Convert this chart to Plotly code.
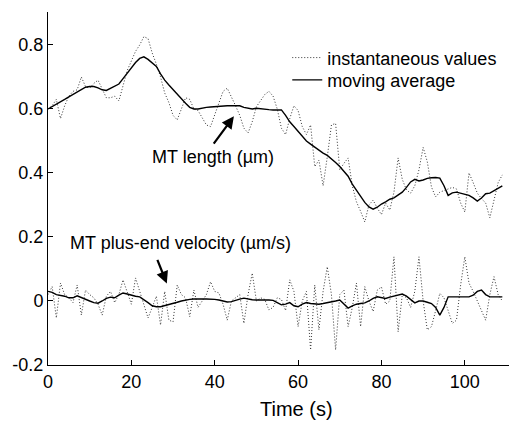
import plotly.graph_objects as go

time_s = list(range(110))

length_inst = [0.60, 0.61, 0.63, 0.57, 0.61, 0.64, 0.655, 0.66, 0.70, 0.67,
               0.665, 0.68, 0.69, 0.66, 0.635, 0.635, 0.64, 0.625, 0.67, 0.72,
               0.75, 0.78, 0.80, 0.826, 0.82, 0.775, 0.74, 0.70, 0.65, 0.62,
               0.58, 0.566, 0.60, 0.635, 0.63, 0.60, 0.595, 0.57, 0.55, 0.545,
               0.58, 0.62, 0.655, 0.665, 0.64, 0.61, 0.58, 0.54, 0.525, 0.56,
               0.607, 0.625, 0.645, 0.655, 0.64, 0.60, 0.54, 0.52, 0.57, 0.61,
               0.595, 0.545, 0.52, 0.55, 0.42, 0.44, 0.36, 0.45, 0.55, 0.555,
               0.41, 0.43, 0.447, 0.36, 0.31, 0.28, 0.247, 0.30, 0.315, 0.29,
               0.27, 0.306, 0.284, 0.34, 0.447, 0.38, 0.347, 0.337, 0.36, 0.41,
               0.48, 0.435, 0.356, 0.325, 0.34, 0.345, 0.35, 0.355, 0.35, 0.306,
               0.278, 0.40, 0.37, 0.337, 0.32, 0.306, 0.26, 0.315, 0.37, 0.394]

length_avg = [0.60, 0.607, 0.615, 0.622, 0.63, 0.638, 0.645, 0.652, 0.66, 0.668,
              0.67, 0.67, 0.666, 0.66, 0.658, 0.665, 0.67, 0.678, 0.695, 0.712,
              0.728, 0.745, 0.758, 0.763, 0.755, 0.745, 0.733, 0.71, 0.69, 0.675,
              0.66, 0.645, 0.63, 0.618, 0.605, 0.60, 0.60, 0.603, 0.605, 0.606,
              0.607, 0.61, 0.61, 0.61, 0.61, 0.61, 0.61, 0.605, 0.603, 0.60,
              0.602, 0.60, 0.598, 0.598, 0.597, 0.597, 0.597, 0.58, 0.56, 0.545,
              0.53, 0.515, 0.50, 0.49, 0.48, 0.472, 0.462, 0.455, 0.445, 0.433,
              0.42, 0.405, 0.39, 0.365, 0.345, 0.325, 0.308, 0.294, 0.287, 0.293,
              0.303, 0.31, 0.318, 0.322, 0.33, 0.34, 0.355, 0.372, 0.38, 0.375,
              0.378, 0.383, 0.385, 0.386, 0.384, 0.36, 0.33, 0.338, 0.34, 0.337,
              0.333, 0.33, 0.322, 0.312, 0.322, 0.335, 0.337, 0.345, 0.352, 0.36]

velocity_inst = [0.02, 0.045, -0.053, 0.056, 0.02, 0.01, -0.005, 0.05, -0.044, 0.034,
                 0.02, 0.01, -0.01, -0.044, 0.015, 0.03, -0.005, 0.02, 0.066, 0.03,
                 -0.01, 0.072, 0.03, -0.01, -0.053, -0.02, 0.015, -0.075, 0.03, -0.06,
                 -0.065, 0.05, 0.02, 0.01, -0.049, 0.034, -0.02, 0.0, 0.02, 0.06,
                 0.03, 0.025, -0.01, -0.06, 0.0, 0.01, 0.02, -0.07, 0.02, 0.087,
                 0.0, 0.01, 0.005, -0.028, -0.02, 0.01, 0.005, -0.03, 0.066, 0.03,
                 -0.08, 0.0, 0.03, -0.153, 0.05, -0.09, 0.03, 0.107, 0.02, -0.153,
                 0.02, 0.034, -0.08, -0.02, 0.056, -0.08, 0.045, 0.0, -0.033, 0.034,
                 0.044, -0.01, 0.0, 0.138, -0.096, 0.02, 0.01, -0.02, 0.03, 0.138,
                 0.0, -0.09, -0.08, -0.03, 0.024, 0.01, -0.03, -0.07, -0.06, 0.05,
                 0.138, 0.056, 0.03, 0.0, -0.03, -0.06, 0.02, 0.076, 0.02, 0.0]

velocity_avg = [0.03, 0.027, 0.02, 0.018, 0.015, 0.01, 0.01, 0.016, 0.01, 0.005,
                0.0, -0.005, -0.007, 0.0, 0.008, 0.012, 0.01, 0.018, 0.025, 0.022,
                0.018, 0.015, 0.013, 0.005, -0.005, -0.015, -0.018, -0.018, -0.015, -0.012,
                -0.007, -0.004, 0.0, 0.003, 0.005, 0.006, 0.005, 0.006, 0.006, 0.006,
                0.005, 0.003, 0.0, -0.003, -0.002, 0.003, 0.006, 0.009, 0.006, 0.004,
                0.003, 0.002, 0.003, 0.003, 0.002, -0.005, -0.012, -0.01, -0.005, -0.015,
                -0.018, -0.01, -0.005, -0.008, -0.01, -0.01, -0.008, -0.006, -0.004, 0.0,
                0.003, -0.01, -0.022, -0.015, -0.01, -0.008, -0.006, 0.0, 0.008, 0.013,
                0.01, 0.008, 0.012, 0.015, 0.02, 0.022, 0.015, 0.005, -0.006, 0.0,
                0.0, -0.004, -0.008, -0.02, -0.044, -0.02, 0.013, 0.013, 0.013, 0.013,
                0.013, 0.013, 0.018, 0.03, 0.034, 0.02, 0.013, 0.013, 0.013, 0.013]

x_ticks = [0, 20, 40, 60, 80, 100]
x_tick_labels = ["0", "20", "40", "60", "80", "100"]
y_ticks = [-0.2, 0, 0.2, 0.4, 0.6, 0.8]
y_tick_labels = ["-0.2", "0", "0.2", "0.4", "0.6", "0.8"]
x_title = "Time (s)"

FONT = "Arial, Liberation Sans, sans-serif"
dot_style = dict(color="#333333", width=1, dash="1px,2px")
solid_style = dict(color="black", width=1.4)

fig = go.Figure()
fig.add_trace(go.Scatter(x=time_s, y=length_inst, mode="lines", line=dot_style,
                         name="instantaneous values", legend="legend"))
fig.add_trace(go.Scatter(x=time_s, y=length_avg, mode="lines", line=solid_style,
                         name="moving average", legend="legend2"))
fig.add_trace(go.Scatter(x=time_s, y=velocity_inst, mode="lines", line=dot_style,
                         name="instantaneous values", showlegend=False))
fig.add_trace(go.Scatter(x=time_s, y=velocity_avg, mode="lines", line=solid_style,
                         name="moving average", showlegend=False))

arrow = dict(showarrow=True, arrowhead=2, arrowsize=1.1, arrowwidth=2.2,
             arrowcolor="black", axref="x", ayref="y", xref="x", yref="y", text="")
fig.add_annotation(x=44.6, y=0.577, ax=39.5, ay=0.487, **arrow)
fig.add_annotation(x=28.5, y=0.055, ax=26.1, ay=0.133, **arrow)
fig.add_annotation(x=39.5, y=0.45, text="MT length (µm)", showarrow=False,
                   font=dict(size=18, color="black", family=FONT))
fig.add_annotation(x=31.7, y=0.18, text="MT plus-end velocity (µm/s)", showarrow=False,
                   font=dict(size=18, color="black", family=FONT))
# x-axis title (placed like the reference, slightly right of the axis centre)
fig.add_annotation(x=0.54, y=-0.125, xref="paper", yref="paper", text=x_title,
                   showarrow=False, xanchor="center", yanchor="middle",
                   font=dict(size=20, color="black", family=FONT))

axis_common = dict(showline=True, linecolor="black", linewidth=1, ticks="inside",
                   ticklen=5, tickcolor="black", showgrid=False, zeroline=False,
                   mirror=False, automargin=False,
                   tickfont=dict(size=18, color="black", family=FONT))
fig.update_xaxes(range=[0, 110.6], tickvals=x_ticks, ticktext=x_tick_labels,
                 **axis_common)
fig.update_yaxes(range=[-0.2, 0.903], tickvals=y_ticks, ticktext=y_tick_labels,
                 **axis_common)

legend_common = dict(xanchor="left", yanchor="middle", bgcolor="rgba(0,0,0,0)",
                     font=dict(size=18, color="black", family=FONT), itemwidth=30)
fig.update_layout(
    width=509, height=422,
    margin=dict(l=48, r=0, t=12, b=57),
    paper_bgcolor="white", plot_bgcolor="white",
    font=dict(family=FONT, color="black"),
    legend=dict(x=0.519, y=0.870, **legend_common),
    legend2=dict(x=0.519, y=0.807, **legend_common),
)

fig.write_html("out.html", config={"displayModeBar": False},
               post_script="document.body.style.margin='0px';")
